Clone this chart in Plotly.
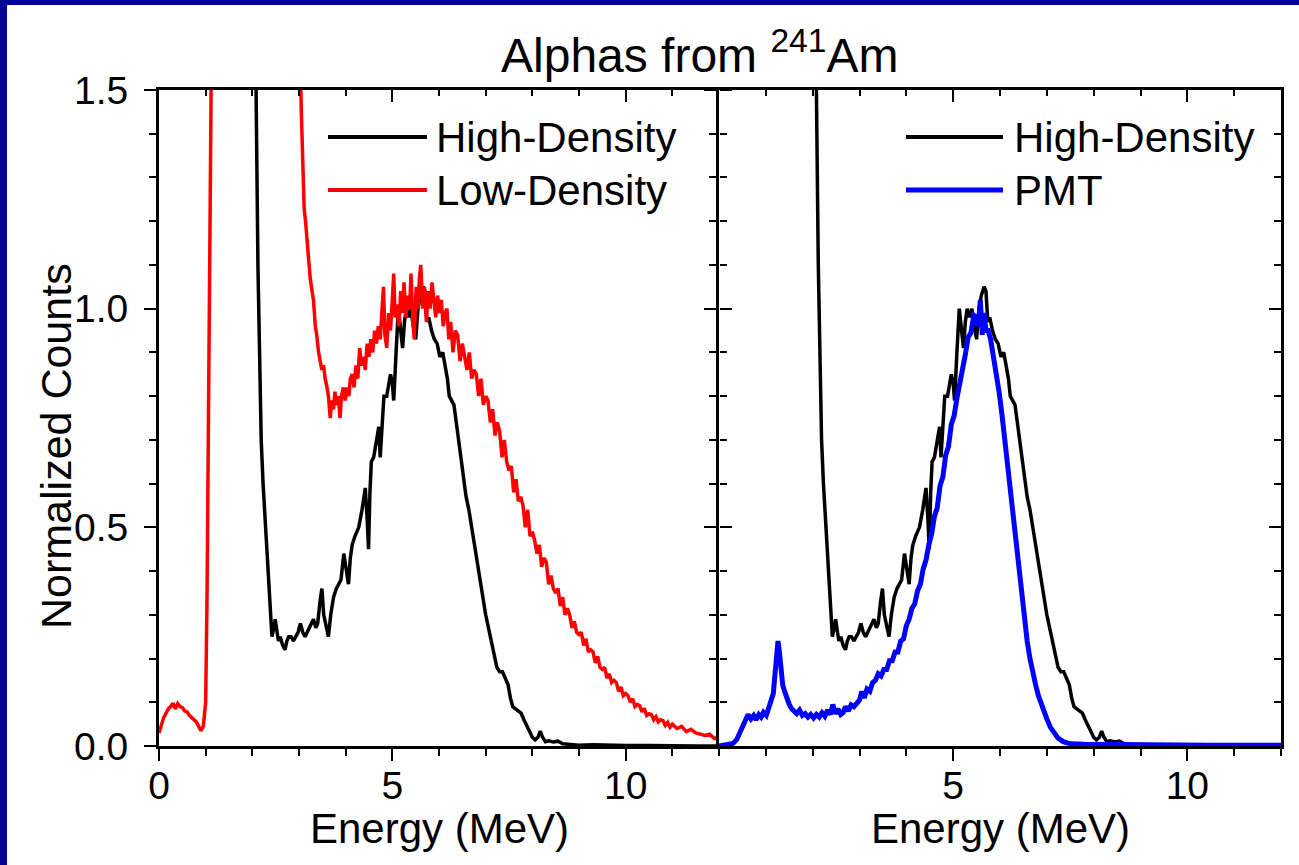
import plotly.graph_objects as go

# ---------------- data ----------------
energy_hd = [1.98, 2.05, 2.08, 2.12, 2.15, 2.19, 2.23, 2.28, 2.33, 2.38,
             2.42, 2.46, 2.49, 2.53, 2.56, 2.60, 2.65, 2.70, 2.74, 2.78,
             2.83, 2.88, 2.93, 2.98, 3.03, 3.08, 3.13, 3.18, 3.23, 3.28,
             3.31, 3.36, 3.40, 3.45, 3.49, 3.53, 3.58, 3.63, 3.68, 3.74,
             3.80, 3.85, 3.90, 3.96, 4.01, 4.06, 4.10, 4.14, 4.20, 4.28,
             4.35, 4.42, 4.46, 4.49, 4.52, 4.55, 4.60, 4.66, 4.71, 4.74,
             4.78, 4.82, 4.88, 4.92, 4.96, 5.00, 5.03, 5.08, 5.13, 5.18,
             5.22, 5.26, 5.30, 5.35, 5.40, 5.45, 5.50, 5.55, 5.60, 5.66,
             5.70, 5.74, 5.78, 5.84, 5.90, 5.96, 6.02, 6.08, 6.13, 6.18,
             6.22, 6.27, 6.32, 6.37, 6.42, 6.47, 6.53, 6.58, 6.64, 6.70,
             6.76, 6.82, 6.88, 6.94, 7.00, 7.06, 7.12, 7.18, 7.24, 7.30,
             7.36, 7.42, 7.48, 7.53, 7.58, 7.64, 7.70, 7.76, 7.82, 7.88,
             7.94, 8.00, 8.06, 8.12, 8.17, 8.22, 8.28, 8.35, 8.45, 8.55,
             8.65, 8.80, 9.00, 9.30, 9.60, 10.0, 10.5, 11.0, 11.5, 12.0]
counts_hd = [3.0, 1.9, 1.5, 1.1, 0.88, 0.70, 0.60, 0.50, 0.40, 0.31,
             0.25, 0.27, 0.29, 0.26, 0.24, 0.25, 0.23, 0.22, 0.24, 0.25,
             0.25, 0.24, 0.25, 0.26, 0.28, 0.26, 0.25, 0.26, 0.27, 0.28,
             0.29, 0.27, 0.28, 0.33, 0.36, 0.30, 0.27, 0.25, 0.30, 0.34,
             0.36, 0.37, 0.38, 0.44, 0.40, 0.37, 0.43, 0.46, 0.48, 0.50,
             0.54, 0.59, 0.52, 0.45, 0.58, 0.65, 0.66, 0.70, 0.73, 0.66,
             0.74, 0.80, 0.80, 0.83, 0.85, 0.83, 0.79, 0.90, 1.00, 0.95,
             0.91, 0.97, 1.00, 0.98, 1.00, 0.96, 0.93, 1.00, 1.03, 1.05,
             1.04, 0.97, 0.98, 0.95, 0.93, 0.92, 0.89, 0.90, 0.87, 0.84,
             0.80, 0.79, 0.78, 0.74, 0.70, 0.65, 0.61, 0.57, 0.54, 0.50,
             0.46, 0.41, 0.37, 0.33, 0.30, 0.27, 0.24, 0.21, 0.18, 0.17,
             0.17, 0.155, 0.14, 0.11, 0.09, 0.085, 0.08, 0.075, 0.06, 0.045,
             0.03, 0.02, 0.014, 0.02, 0.034, 0.02, 0.01, 0.012, 0.009, 0.011,
             0.005, 0.003, 0.002, 0.003, 0.002, 0.001, 0.001, 0.0, 0.0, 0.0]

energy_ld = [0.00, 0.05, 0.10, 0.15, 0.20, 0.25, 0.30, 0.35, 0.40, 0.45,
             0.50, 0.55, 0.60, 0.65, 0.70, 0.75, 0.80, 0.85, 0.90, 0.95,
             1.00, 1.03, 1.06, 1.09, 1.12, 1.15, 2.00, 2.95, 3.00, 3.05,
             3.08, 3.11, 3.14, 3.17, 3.20, 3.24, 3.28, 3.31, 3.35, 3.38,
             3.42, 3.45, 3.49, 3.53, 3.56, 3.60, 3.63, 3.67, 3.70, 3.74,
             3.77, 3.80, 3.84, 3.88, 3.91, 3.95, 3.99, 4.03, 4.07, 4.10,
             4.14, 4.18, 4.22, 4.26, 4.30, 4.34, 4.38, 4.42, 4.46, 4.50,
             4.54, 4.58, 4.62, 4.66, 4.70, 4.74, 4.78, 4.81, 4.84, 4.88,
             4.92, 4.96, 5.00, 5.03, 5.06, 5.10, 5.14, 5.18, 5.22, 5.25,
             5.29, 5.33, 5.37, 5.40, 5.44, 5.47, 5.51, 5.55, 5.58, 5.61,
             5.65, 5.69, 5.73, 5.77, 5.81, 5.85, 5.89, 5.93, 5.97, 6.01,
             6.05, 6.09, 6.13, 6.17, 6.21, 6.25, 6.30, 6.35, 6.40, 6.45,
             6.50, 6.55, 6.60, 6.65, 6.70, 6.75, 6.80, 6.85, 6.90, 6.95,
             7.00, 7.05, 7.10, 7.15, 7.20, 7.25, 7.30, 7.35, 7.40, 7.45,
             7.50, 7.55, 7.60, 7.65, 7.70, 7.75, 7.80, 7.85, 7.90, 7.95,
             8.00, 8.05, 8.10, 8.15, 8.20, 8.25, 8.30, 8.35, 8.40, 8.45,
             8.50, 8.55, 8.60, 8.65, 8.70, 8.75, 8.80, 8.85, 8.90, 8.95,
             9.00, 9.05, 9.10, 9.15, 9.20, 9.25, 9.30, 9.35, 9.40, 9.45,
             9.50, 9.55, 9.60, 9.65, 9.70, 9.75, 9.80, 9.85, 9.90, 9.95,
             10.00, 10.05, 10.10, 10.15, 10.20, 10.25, 10.30, 10.35, 10.40, 10.45,
             10.50, 10.55, 10.60, 10.65, 10.70, 10.75, 10.80, 10.85, 10.90, 10.95,
             11.00, 11.10, 11.20, 11.30, 11.40, 11.50, 11.60, 11.70, 11.80, 11.90,
             12.00]
counts_ld = [0.03, 0.05, 0.065, 0.075, 0.085, 0.09, 0.098, 0.085, 0.097, 0.09,
             0.088, 0.08, 0.078, 0.07, 0.065, 0.06, 0.055, 0.045, 0.035, 0.045,
             0.10, 0.35, 0.70, 1.20, 1.55, 2.5, 5.0, 2.5, 1.7, 1.45,
             1.32, 1.23, 1.20, 1.16, 1.12, 1.07, 1.04, 1.02, 0.96, 0.94,
             0.90, 0.88, 0.86, 0.87, 0.84, 0.82, 0.80, 0.75, 0.79, 0.77,
             0.81, 0.78, 0.80, 0.75, 0.80, 0.82, 0.79, 0.82, 0.80, 0.84,
             0.85, 0.82, 0.87, 0.84, 0.91, 0.87, 0.89, 0.86, 0.92, 0.89,
             0.93, 0.90, 0.95, 0.92, 0.96, 0.93, 1.00, 1.05, 0.94, 0.91,
             0.99, 0.95, 1.02, 1.08, 0.98, 1.01, 0.96, 1.04, 0.99, 1.06,
             0.98, 1.03, 1.00, 1.08, 0.97, 0.93, 1.05, 1.00, 1.07, 1.10,
             1.00, 1.05, 0.97, 1.04, 1.00, 1.06, 1.02, 0.98, 1.03, 0.99,
             1.02, 0.96, 0.99, 1.00, 0.93, 0.97, 0.90, 0.95, 0.94, 0.88,
             0.92, 0.89, 0.86, 0.90, 0.84, 0.86, 0.85, 0.80, 0.84, 0.78,
             0.80, 0.79, 0.74, 0.77, 0.71, 0.74, 0.72, 0.66, 0.70, 0.65,
             0.63, 0.64, 0.58, 0.61, 0.56, 0.57, 0.55, 0.50, 0.54, 0.48,
             0.49, 0.47, 0.44, 0.46, 0.41, 0.43, 0.42, 0.37, 0.39, 0.36,
             0.35, 0.36, 0.32, 0.34, 0.30, 0.315, 0.30, 0.27, 0.285, 0.26,
             0.255, 0.26, 0.23, 0.245, 0.215, 0.22, 0.215, 0.19, 0.205, 0.18,
             0.175, 0.18, 0.155, 0.165, 0.145, 0.15, 0.145, 0.125, 0.135, 0.115,
             0.12, 0.115, 0.10, 0.108, 0.09, 0.095, 0.092, 0.078, 0.086, 0.07,
             0.074, 0.072, 0.06, 0.067, 0.055, 0.06, 0.058, 0.047, 0.054, 0.043,
             0.05, 0.04, 0.045, 0.033, 0.038, 0.03, 0.028, 0.024, 0.027, 0.017,
             0.02]

energy_pmt = [0.00, 0.15, 0.30, 0.38, 0.44, 0.50, 0.56, 0.62, 0.68, 0.74,
              0.79, 0.85, 0.90, 0.95, 1.01, 1.06, 1.12, 1.16, 1.20, 1.23,
              1.26, 1.29, 1.32, 1.36, 1.40, 1.45, 1.50, 1.55, 1.60, 1.66,
              1.72, 1.78, 1.84, 1.90, 1.96, 2.02, 2.08, 2.14, 2.20, 2.26,
              2.32, 2.38, 2.43, 2.48, 2.54, 2.60, 2.65, 2.70, 2.76, 2.82,
              2.88, 2.94, 3.00, 3.05, 3.10, 3.16, 3.22, 3.28, 3.34, 3.40,
              3.46, 3.52, 3.58, 3.64, 3.70, 3.76, 3.82, 3.88, 3.94, 4.00,
              4.06, 4.12, 4.18, 4.24, 4.30, 4.36, 4.42, 4.48, 4.54, 4.60,
              4.66, 4.72, 4.78, 4.84, 4.90, 4.96, 5.02, 5.08, 5.14, 5.20,
              5.26, 5.32, 5.38, 5.44, 5.50, 5.54, 5.58, 5.62, 5.66, 5.70,
              5.75, 5.80, 5.86, 5.92, 5.98, 6.04, 6.10, 6.16, 6.22, 6.28,
              6.34, 6.40, 6.46, 6.52, 6.58, 6.64, 6.70, 6.76, 6.82, 6.88,
              6.94, 7.00, 7.08, 7.16, 7.24, 7.35, 7.50, 7.80, 8.50, 9.50,
              10.50, 12.00]
counts_pmt = [0.0, 0.002, 0.006, 0.015, 0.03, 0.045, 0.06, 0.072, 0.062, 0.07,
              0.06, 0.072, 0.066, 0.077, 0.07, 0.087, 0.098, 0.12, 0.17, 0.215,
              0.24, 0.215, 0.17, 0.14, 0.125, 0.105, 0.095, 0.085, 0.08, 0.074,
              0.082, 0.07, 0.074, 0.066, 0.072, 0.064, 0.072, 0.066, 0.076, 0.068,
              0.082, 0.072, 0.095, 0.074, 0.085, 0.072, 0.076, 0.09, 0.08, 0.094,
              0.09, 0.1, 0.105, 0.125, 0.11, 0.13, 0.125, 0.145, 0.15, 0.165,
              0.16, 0.175, 0.175, 0.195, 0.195, 0.215, 0.215, 0.24, 0.245, 0.275,
              0.29, 0.315, 0.325, 0.355, 0.37, 0.405, 0.425, 0.46, 0.485, 0.525,
              0.545, 0.595, 0.615, 0.665, 0.685, 0.735, 0.755, 0.795, 0.825, 0.865,
              0.895, 0.935, 0.945, 0.985, 0.98, 0.96, 1.02, 0.94, 0.99, 0.95,
              0.95, 0.93, 0.89, 0.86, 0.81, 0.76, 0.70, 0.64, 0.58, 0.52,
              0.46, 0.40, 0.34, 0.29, 0.24, 0.20, 0.165, 0.14, 0.115, 0.095,
              0.077, 0.062, 0.042, 0.028, 0.018, 0.01, 0.005, 0.004, 0.003, 0.003,
              0.002, 0.002]

x_range = [0, 12]
y_range = [0, 1.5]
x_tickvals_left = [0, 5, 10]
x_ticktext_left = ["0", "5", "10"]
x_tickvals_right = [5, 10]
x_ticktext_right = ["5", "10"]
y_tickvals = [0, 0.5, 1.0, 1.5]
y_ticktext = ["0.0", "0.5", "1.0", "1.5"]

assert len(energy_hd) == len(counts_hd)
assert len(energy_ld) == len(counts_ld)
assert len(energy_pmt) == len(counts_pmt)

# ---------------- layout geometry ----------------
W, H = 1299, 865
ML, MR, MT, MB = 159, 18, 90, 119
PW = W - ML - MR
PH = H - MT - MB
FONT = "Liberation Sans, Arial, sans-serif"
NAVY = "#000099"


def px_x(px):
    return (px - ML) / PW


def px_y(py):
    return (H - MB - py) / PH


split = px_x(719)

fig = go.Figure()

# left panel
fig.add_trace(go.Scatter(x=energy_hd, y=counts_hd, xaxis="x", yaxis="y", mode="lines",
                         line=dict(color="black", width=3.5), name="High-Density",
                         showlegend=False))
fig.add_trace(go.Scatter(x=energy_ld, y=counts_ld, xaxis="x", yaxis="y", mode="lines",
                         line=dict(color="#FF0000", width=3.5), name="Low-Density",
                         showlegend=False))
# right panel
fig.add_trace(go.Scatter(x=energy_hd, y=counts_hd, xaxis="x2", yaxis="y2", mode="lines",
                         line=dict(color="black", width=3.5), name="High-Density",
                         showlegend=False))
fig.add_trace(go.Scatter(x=energy_pmt, y=counts_pmt, xaxis="x2", yaxis="y2", mode="lines",
                         line=dict(color="#0000FF", width=5), name="PMT",
                         showlegend=False))

# invisible helpers so the tick-only overlay axes get drawn
for xa, ya in [("x3", "y"), ("x4", "y2"), ("x", "y3"), ("x2", "y4")]:
    fig.add_trace(go.Scatter(x=[-5], y=[-5], xaxis=xa, yaxis=ya, mode="markers",
                             marker=dict(opacity=0), showlegend=False, hoverinfo="skip"))

tickfont = dict(family=FONT, size=39, color="black")


def main_axis(**kw):
    d = dict(showline=True, linecolor="black", linewidth=3, mirror=True,
             showgrid=False, zeroline=False, ticks="outside", ticklen=12,
             tickwidth=2, tickcolor="black", tickfont=tickfont, layer="above traces")
    d.update(kw)
    return d


def tick_axis(**kw):
    d = dict(showline=False, showgrid=False, zeroline=False, showticklabels=False,
             tickwidth=2, tickcolor="black", ticklen=12)
    d.update(kw)
    return d


xminor = dict(ticks="outside", ticklen=7, tickwidth=2, tickcolor="black",
              tickmode="linear", tick0=0, dtick=1, showgrid=False)
yminor = dict(ticks="outside", ticklen=7, tickwidth=2, tickcolor="black",
              tickmode="linear", tick0=0, dtick=0.1, showgrid=False)

fig.update_layout(
    width=W, height=H,
    margin=dict(l=ML, r=MR, t=MT, b=MB, autoexpand=False),
    paper_bgcolor="white", plot_bgcolor="white",
    font=dict(family=FONT, color="black"),
    showlegend=False,
    xaxis=main_axis(domain=[0, split], range=x_range, anchor="y",
                    tickmode="array", tickvals=x_tickvals_left, ticktext=x_ticktext_left,
                    minor=xminor, ticklabelstandoff=-9),
    yaxis=main_axis(domain=[0, 1], range=y_range, anchor="x", mirror=False,
                    tickmode="array", tickvals=y_tickvals, ticktext=y_ticktext,
                    minor=yminor, ticklabelstandoff=8),
    xaxis2=main_axis(domain=[split, 1], range=x_range, anchor="y2",
                     tickmode="array", tickvals=x_tickvals_right, ticktext=x_ticktext_right,
                     minor=xminor, ticklabelstandoff=-9),
    yaxis2=main_axis(domain=[0, 1], range=y_range, anchor="x2",
                     tickmode="array", tickvals=y_tickvals, showticklabels=False,
                     minor=yminor),
    xaxis3=tick_axis(overlaying="x", anchor="y", side="top", range=x_range,
                     ticks="inside", tickmode="array", tickvals=x_tickvals_left,
                     minor=dict(ticks="inside", ticklen=6, tickwidth=2, tickcolor="black",
                                tickmode="linear", tick0=0, dtick=1)),
    xaxis4=tick_axis(overlaying="x2", anchor="y2", side="top", range=x_range,
                     ticks="inside", tickmode="array", tickvals=x_tickvals_right,
                     minor=dict(ticks="inside", ticklen=6, tickwidth=2, tickcolor="black",
                                tickmode="linear", tick0=0, dtick=1)),
    yaxis3=tick_axis(overlaying="y", anchor="x", side="right", range=y_range,
                     ticks="outside", tickmode="array", tickvals=y_tickvals,
                     minor=dict(ticks="outside", ticklen=7, tickwidth=2, tickcolor="black",
                                tickmode="linear", tick0=0, dtick=0.1)),
    yaxis4=tick_axis(overlaying="y2", anchor="x2", side="right", range=y_range,
                     ticks="inside", tickmode="array", tickvals=y_tickvals,
                     minor=dict(ticks="inside", ticklen=7, tickwidth=2, tickcolor="black",
                                tickmode="linear", tick0=0, dtick=0.1)),
)

shapes = [
    # slide frame (left and top strips)
    dict(type="rect", xref="paper", yref="paper", x0=px_x(0), x1=px_x(7),
         y0=px_y(H), y1=px_y(0), fillcolor=NAVY, line=dict(width=0), layer="above"),
    dict(type="rect", xref="paper", yref="paper", x0=px_x(0), x1=px_x(W),
         y0=px_y(5), y1=px_y(0), fillcolor=NAVY, line=dict(width=0), layer="above"),
    # legend samples
    dict(type="line", xref="paper", yref="paper", x0=px_x(328), x1=px_x(427),
         y0=px_y(137), y1=px_y(137), line=dict(color="black", width=4)),
    dict(type="line", xref="paper", yref="paper", x0=px_x(328), x1=px_x(427),
         y0=px_y(190), y1=px_y(190), line=dict(color="#FF0000", width=4)),
    dict(type="line", xref="paper", yref="paper", x0=px_x(906), x1=px_x(1003),
         y0=px_y(137), y1=px_y(137), line=dict(color="black", width=4)),
    dict(type="line", xref="paper", yref="paper", x0=px_x(906), x1=px_x(1003),
         y0=px_y(190), y1=px_y(190), line=dict(color="#0000FF", width=5)),
]

big = dict(family=FONT, size=42, color="black")
annotations = [
    dict(text="Alphas from <sup>241</sup>Am", x=px_x(699), y=px_y(52),
         xanchor="center", yanchor="middle", font=dict(family=FONT, size=48, color="black")),
    dict(text="Normalized Counts", x=px_x(56), y=px_y(446), textangle=-90,
         xanchor="center", yanchor="middle", font=dict(family=FONT, size=43, color="black")),
    dict(text="Energy (MeV)", x=px_x(439), y=px_y(828),
         xanchor="center", yanchor="middle", font=big),
    dict(text="Energy (MeV)", x=px_x(1000), y=px_y(828),
         xanchor="center", yanchor="middle", font=big),
    dict(text="High-Density", x=px_x(434), y=px_y(137),
         xanchor="left", yanchor="middle", font=big),
    dict(text="Low-Density", x=px_x(434), y=px_y(190),
         xanchor="left", yanchor="middle", font=big),
    dict(text="High-Density", x=px_x(1012), y=px_y(137),
         xanchor="left", yanchor="middle", font=big),
    dict(text="PMT", x=px_x(1012), y=px_y(190),
         xanchor="left", yanchor="middle", font=big),
]
for a in annotations:
    a.update(xref="paper", yref="paper", showarrow=False)

fig.update_layout(shapes=shapes, annotations=annotations)

fig.write_html("out.html", config={"displayModeBar": False},
               post_script="document.body.style.margin='0';")
